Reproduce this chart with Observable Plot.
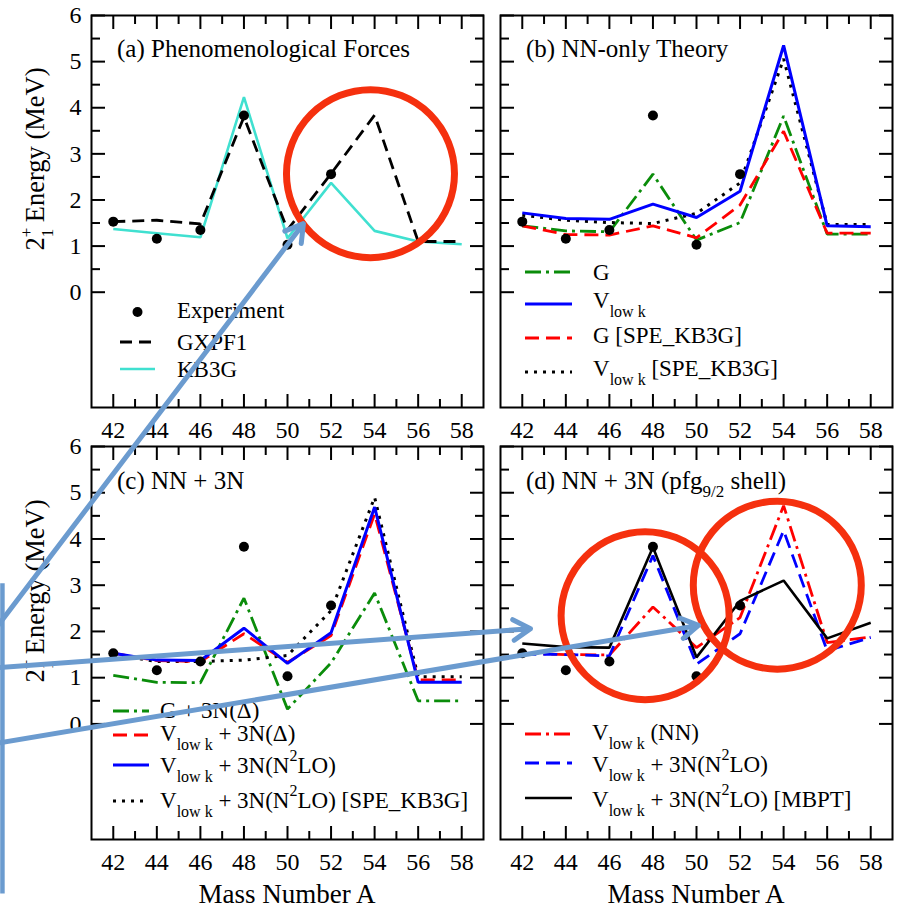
<!DOCTYPE html>
<html><head><meta charset="utf-8">
<script src="https://cdn.jsdelivr.net/npm/d3@7"></script>
<script src="https://cdn.jsdelivr.net/npm/@observablehq/plot@0.6"></script>
<style>
html,body{margin:0;padding:0;background:#fff;}
#fig{position:relative;width:897px;height:908px;overflow:hidden;background:#fff;}
#fig svg{position:absolute;left:0;top:0;}
</style></head>
<body><div id="fig"></div>
<script>
// ---------------- data ----------------
const massNumbers = [42, 44, 46, 48, 50, 52, 54, 56, 58];
const expMass = [42, 44, 46, 48, 50, 52];
const experiment = [1.53, 1.16, 1.35, 3.83, 1.03, 2.56];

// (a) Phenomenological forces
const gxpf1 = [1.53, 1.56, 1.48, 3.80, 1.35, 2.57, 3.84, 1.10, 1.10];
const kb3g  = [1.37, 1.28, 1.19, 4.23, 1.17, 2.37, 1.33, 1.10, 1.04];

// (b) NN-only theory
const gNN       = [1.44, 1.33, 1.31, 2.56, 1.13, 1.51, 3.82, 1.26, 1.26];
const vlowkNN   = [1.72, 1.60, 1.58, 1.91, 1.62, 2.19, 5.35, 1.44, 1.42];
const gSPE      = [1.44, 1.25, 1.24, 1.44, 1.18, 1.89, 3.49, 1.28, 1.28];
const vlowkSPE  = [1.67, 1.56, 1.51, 1.49, 1.71, 2.37, 5.06, 1.47, 1.47];

// (c) NN + 3N
const g3nDelta      = [1.05, 0.90, 0.89, 2.72, 0.32, 1.32, 2.83, 0.50, 0.50];
const vlowk3nDelta  = [1.53, 1.37, 1.35, 1.95, 1.33, 1.91, 4.54, 0.95, 0.95];
const vlowk3nN2LO   = [1.53, 1.38, 1.37, 2.07, 1.31, 1.97, 4.69, 0.90, 0.90];
const vlowk3nSPE    = [1.50, 1.35, 1.35, 1.38, 1.48, 2.45, 4.90, 1.02, 1.02];

// (d) NN + 3N (pfg9/2 shell)
const vlowkPfgNN    = [1.53, 1.50, 1.49, 2.53, 1.65, 2.30, 4.72, 1.76, 1.88];
const vlowkPfg3N    = [1.51, 1.50, 1.47, 3.64, 1.29, 1.95, 4.18, 1.58, 1.87];
const vlowkPfgMBPT  = [1.74, 1.66, 1.65, 3.82, 1.44, 2.66, 3.10, 1.85, 2.19];

// ticks
const xTicks = [42, 44, 46, 48, 50, 52, 54, 56, 58];
const xMinorTicks = [43, 45, 47, 49, 51, 53, 55, 57];
const yTicks = [0, 1, 2, 3, 4, 5, 6];
const yMinorTicks = [0.5, 1.5, 2.5, 3.5, 4.5, 5.5];

// annotations (data units of the panel they are drawn in)
const circleA = [{x: 53.81, y: 2.57}];
const circlesD = [{x: 47.64, y: 2.34}, {x: 53.71, y: 3.00}];
const arrowsD = [
  {x1: 17.12, y1: 1.63, x2: 31.95, y2: 10.82},
  {x1: 17.12, y1: 1.19, x2: 42.38, y2: 2.06},
  {x1: 17.12, y1: -0.48, x2: 50.09, y2: 2.13}
];
const calloutEdgeD = [{x1: 18.13, y1: 3.04, x2: 18.13, y2: -3.67}];

// ---------------- styles ----------------
const FONT = '"Liberation Serif","Times New Roman",serif';
const S = {
  dashBlack:   {stroke: "#000000", strokeWidth: 2.8, dash: "12,7"},
  turq:        {stroke: "#40e0d0", strokeWidth: 2.6, dash: null},
  greenDD:     {stroke: "#0a8c0a", strokeWidth: 2.8, dash: "16,5,3,5"},
  blueSolid:   {stroke: "#0000ff", strokeWidth: 3,   dash: null},
  redDashed:   {stroke: "#ff0000", strokeWidth: 2.8, dash: "14,7"},
  blackDotted: {stroke: "#000000", strokeWidth: 3,   dash: "3,6"},
  redDD:       {stroke: "#ff0000", strokeWidth: 2.8, dash: "16,5,3,5"},
  blueDashed:  {stroke: "#0000ff", strokeWidth: 2.8, dash: "14,7"},
  blackSolid:  {stroke: "#000000", strokeWidth: 2.6, dash: null}
};

const W = 897, H = 908;
const panels = [
  {frame: {l: 91, r: 483, t: 15, b: 407}, yText: true,
   title: "(a) Phenomenological Forces", titleXY: [117, 57],
   series: [{v: kb3g, s: "turq"}, {v: gxpf1, s: "dashBlack"}],
   legend: {x1: 120, x2: 155, tx: 177, rows: [
     {label: "Experiment", dot: true, y: 312, ty: 318},
     {label: "GXPF1", s: "dashBlack", y: 342, ty: 350},
     {label: "KB3G", s: "turq", y: 369, ty: 377}]},
   yLabel: [44, 159]},
  {frame: {l: 500, r: 892, t: 15, b: 407}, yText: false,
   title: "(b) NN-only Theory", titleXY: [526, 57],
   series: [{v: gNN, s: "greenDD"}, {v: gSPE, s: "redDashed"}, {v: vlowkSPE, s: "blackDotted"}, {v: vlowkNN, s: "blueSolid"}],
   legend: {x1: 525, x2: 572, tx: 593, rows: [
     {label: "G", s: "greenDD", y: 272, ty: 280},
     {label: "V_{low k}", s: "blueSolid", y: 304, ty: 308},
     {label: "G [SPE_KB3G]", s: "redDashed", y: 338, ty: 343},
     {label: "V_{low k} [SPE_KB3G]", s: "blackDotted", y: 372, ty: 376}]}},
  {frame: {l: 91, r: 483, t: 446, b: 839}, yText: true,
   title: "(c) NN + 3N", titleXY: [117, 489],
   series: [{v: g3nDelta, s: "greenDD"}, {v: vlowk3nSPE, s: "blackDotted"}, {v: vlowk3nDelta, s: "redDashed"}, {v: vlowk3nN2LO, s: "blueSolid"}],
   legend: {x1: 113, x2: 149, tx: 160, rows: [
     {label: "G + 3N(\u0394)", s: "greenDD", y: 711, ty: 718},
     {label: "V_{low k} + 3N(\u0394)", s: "redDashed", y: 735, ty: 741},
     {label: "V_{low k} + 3N(N^{2}LO)", s: "blueSolid", y: 765, ty: 773},
     {label: "V_{low k} + 3N(N^{2}LO) [SPE_KB3G]", s: "blackDotted", y: 801, ty: 808}]},
   yLabel: [44, 591], xLabel: [287, 903]},
  {frame: {l: 500, r: 892, t: 446, b: 839}, yText: false,
   title: "(d) NN + 3N (pfg_{9/2} shell)", titleXY: [526, 489],
   series: [{v: vlowkPfgNN, s: "redDD"}, {v: vlowkPfg3N, s: "blueDashed"}, {v: vlowkPfgMBPT, s: "blackSolid"}],
   legend: {x1: 525, x2: 572, tx: 592, rows: [
     {label: "V_{low k} (NN)", s: "redDD", y: 734, ty: 740},
     {label: "V_{low k} + 3N(N^{2}LO)", s: "blueDashed", y: 763, ty: 772},
     {label: "V_{low k} + 3N(N^{2}LO) [MBPT]", s: "blackSolid", y: 798, ty: 807}]},
   xLabel: [696, 903]}
];

const toRows = vals => massNumbers.map((A, i) => ({A, E: vals[i]}));
const expRows = expMass.map((A, i) => ({A, E: experiment[i]}));

function frameAxes(yText) {
  const tick = {stroke: "black", strokeWidth: 2, fill: "none"};
  const m = [];
  for (const anchor of ["top", "bottom"]) {
    m.push(Plot.axisX(xTicks, {anchor, tickSize: -13, ...tick}));
    m.push(Plot.axisX(xMinorTicks, {anchor, tickSize: -8, ...tick}));
  }
  for (const anchor of ["left", "right"]) {
    m.push(Plot.axisY(yTicks, {anchor, tickSize: -14, ...tick}));
    m.push(Plot.axisY(yMinorTicks, {anchor, tickSize: -9, ...tick}));
  }
  m.push(Plot.axisX(xTicks, {anchor: "bottom", tickSize: 0, tickPadding: 13, label: null, fontSize: 24, fill: "black"}));
  if (yText) m.push(Plot.axisY(yTicks, {anchor: "left", tickSize: 0, tickPadding: 10, label: null, fontSize: 24, fill: "black"}));
  return m;
}

function richText(parent, x, y, str, o) {
  const t = parent.append("text").attr("x", x).attr("y", y)
    .attr("font-size", o.size).attr("fill", "black").style("font-family", FONT)
    .attr("text-anchor", o.anchor || "start");
  const parts = str.split(/(_\{[^}]*\}|\^\{[^}]*\})/).filter(s => s.length);
  let shift = 0;
  for (const p of parts) {
    let target = 0, fs = o.size, txt = p;
    if (p.startsWith("_{")) { target = o.subDy; fs = o.subSize; txt = p.slice(2, -1); }
    else if (p.startsWith("^{")) { target = o.supDy; fs = o.subSize; txt = p.slice(2, -1); }
    t.append("tspan").attr("dy", target - shift).attr("font-size", fs).text(txt);
    shift = target;
  }
  return t;
}

const fig = d3.select("#fig");

panels.forEach((p, pi) => {
  const f = p.frame;
  const marks = [Plot.frame({stroke: "black", strokeWidth: 2})];
  marks.push(...frameAxes(p.yText));
  for (const ser of p.series) {
    const st = S[ser.s];
    marks.push(Plot.line(toRows(ser.v), {x: "A", y: "E", stroke: st.stroke, strokeWidth: st.strokeWidth,
      strokeDasharray: st.dash || undefined, strokeLinecap: "butt", strokeLinejoin: "miter"}));
  }
  marks.push(Plot.dot(expRows, {x: "A", y: "E", r: 5, fill: "black", stroke: "none"}));
  if (pi === 0) {
    marks.push(Plot.dot(circleA, {x: "x", y: "y", r: 84, fill: "none", stroke: "#f5300e", strokeWidth: 7, ariaLabel: "annotation circle"}));
  }
  if (pi === 3) {
    marks.push(Plot.dot(circlesD, {x: "x", y: "y", r: 84, fill: "none", stroke: "#f5300e", strokeWidth: 7, ariaLabel: "annotation circle"}));
    marks.push(Plot.link(calloutEdgeD, {x1: "x1", y1: "y1", x2: "x2", y2: "y2", stroke: "#6b9bcf", strokeWidth: 4.5, ariaLabel: "annotation arrow"}));
    marks.push(Plot.arrow(arrowsD, {x1: "x1", y1: "y1", x2: "x2", y2: "y2", stroke: "#6b9bcf", strokeWidth: 5,
      headLength: 6, headAngle: 62, ariaLabel: "annotation arrow"}));
  }
  const svg = Plot.plot({
    width: W, height: H,
    marginLeft: f.l, marginRight: W - f.r, marginTop: f.t, marginBottom: H - f.b,
    x: {domain: [41, 59], axis: null},
    y: {domain: [-2.5, 6], axis: null},
    marks
  });
  svg.style.background = "transparent";
  svg.style.overflow = "visible";
  svg.style.fontFamily = FONT;
  svg.style.fontSize = "24px";
  svg.style.color = "black";
  fig.node().appendChild(svg);
  const g = d3.select(svg).append("g").attr("text-anchor", "start");
  d3.select(svg).selectAll('[aria-label="annotation circle"], [aria-label="annotation arrow"]')
    .style("filter", "drop-shadow(1px 2px 2px rgba(0,0,0,0.35))");

  // title
  richText(g, p.titleXY[0], p.titleXY[1], p.title, {size: 25, subSize: 17, subDy: 8, supDy: -11});
  // legend
  const L = p.legend;
  for (const row of L.rows) {
    if (row.dot) {
      g.append("circle").attr("cx", (L.x1 + L.x2) / 2).attr("cy", row.y).attr("r", 5).attr("fill", "black");
    } else {
      const st = S[row.s];
      g.append("line").attr("x1", L.x1).attr("x2", L.x2).attr("y1", row.y).attr("y2", row.y)
        .attr("stroke", st.stroke).attr("stroke-width", st.strokeWidth)
        .attr("stroke-dasharray", st.dash).attr("stroke-linecap", "butt");
    }
    richText(g, L.tx, row.ty, row.label, {size: 23, subSize: 16, subDy: 9, supDy: -12});
  }
  // axis labels
  if (p.yLabel) {
    const t = g.append("text").attr("transform", `translate(${p.yLabel[0]},${p.yLabel[1]}) rotate(-90)`)
      .attr("text-anchor", "middle").attr("font-size", 26.5).attr("fill", "black").style("font-family", FONT);
    t.append("tspan").text("2");
    t.append("tspan").attr("font-size", 17).attr("dy", -12).text("+");
    t.append("tspan").attr("font-size", 17).attr("dx", -9.6).attr("dy", 21).text("1");
    t.append("tspan").attr("dy", -9).text(" Energy (MeV)");
  }
  if (p.xLabel) {
    g.append("text").attr("x", p.xLabel[0]).attr("y", p.xLabel[1]).attr("text-anchor", "middle")
      .attr("font-size", 27).attr("fill", "black").style("font-family", FONT).text("Mass Number A");
  }
});
</script>
</body></html>
